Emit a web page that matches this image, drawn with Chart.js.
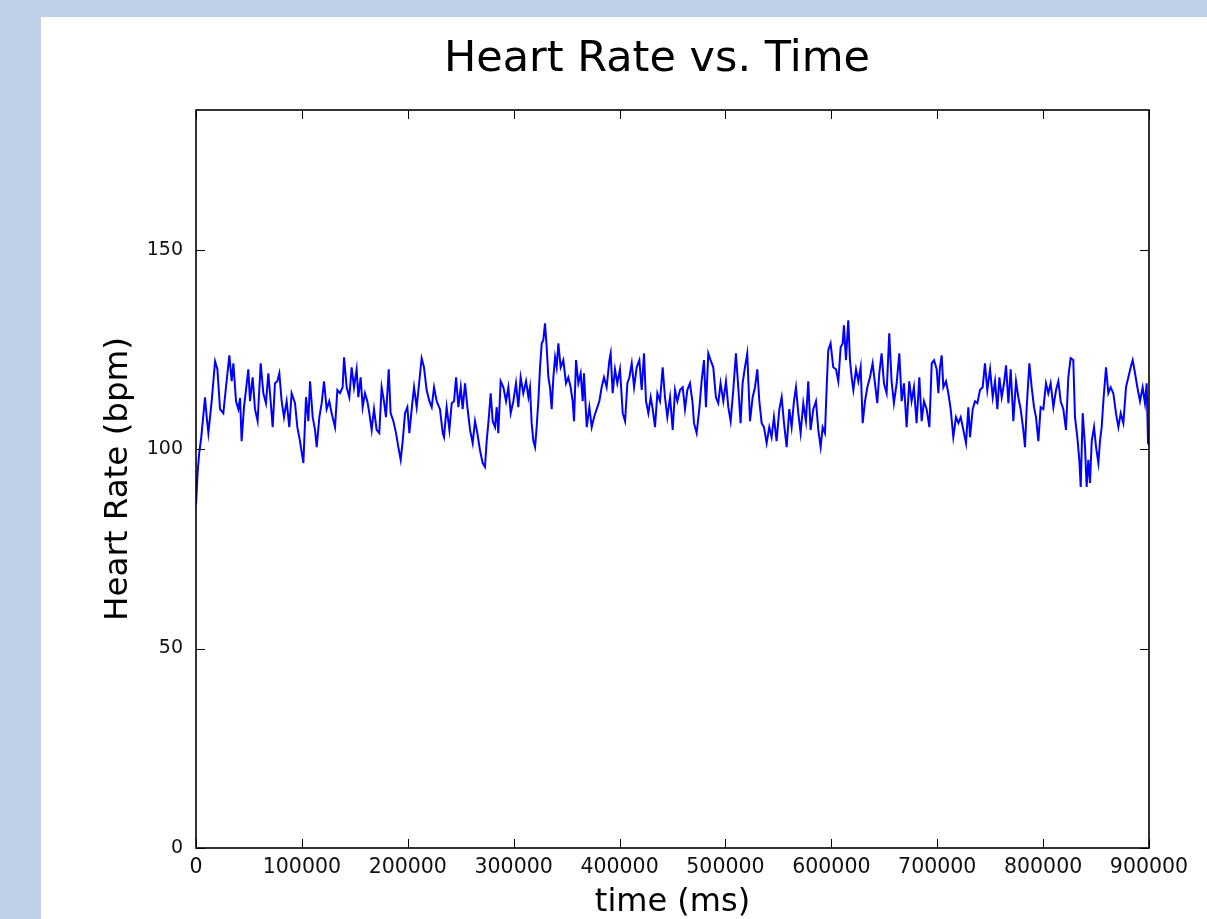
<!DOCTYPE html>
<html>
<head>
<meta charset="utf-8">
<title>Heart Rate vs. Time</title>
<script src="https://cdn.jsdelivr.net/npm/chart.js@4/dist/chart.umd.min.js"></script>
<style>
  html, body { margin: 0; padding: 0; background: #bfcfe7; }
  #wrap { width: 1207px; height: 919px; }
</style>
</head>
<body>
<div id="wrap"><canvas id="hrChart" width="1207" height="919"></canvas></div>
<script>
// readings taken off the plot: time in ms, heart rate in bpm
const timeMs = [
    0, 1500, 3000, 5000, 8500, 10100, 11700, 14800, 18000, 20200,
    22700, 25800, 28300, 31500, 33700, 35300, 37800, 40000, 41600, 43100,
    45300, 47200, 49400, 51000, 53500, 55700, 58200, 61100, 63600, 66100,
    68300, 70500, 72400, 74600, 76800, 78700, 80900, 83100, 85600, 88100,
    90300, 93500, 95700, 98200, 101400, 103900, 106100, 107700, 110200, 112400,
    114000, 116500, 118700, 120900, 123400, 125900, 128100, 131300, 133500, 136000,
    138500, 139800, 142300, 144800, 147000, 149200, 151700, 153300, 155500, 157400,
    159600, 161800, 163700, 165900, 168100, 170600, 173100, 175300, 177500, 179400,
    182000, 183800, 186400, 188900, 191100, 193300, 195200, 197400, 199600, 201500,
    203700, 205900, 208400, 210900, 213100, 215300, 217800, 220400, 222600, 224800,
    227300, 230400, 233000, 234200, 236700, 239300, 241500, 243700, 245600, 247800,
    250000, 251800, 254100, 256300, 258800, 261300, 263500, 265700, 268200, 270700,
    272900, 274500, 276100, 278300, 280200, 282400, 284000, 285500, 287700, 290300,
    292800, 295000, 297200, 299700, 302200, 304400, 306600, 309100, 311700, 313900,
    315400, 317000, 318600, 320200, 321700, 323300, 324900, 326500, 328000, 329600,
    331200, 332800, 334300, 335900, 337500, 339100, 340600, 342200, 344400, 346900,
    349400, 351600, 353800, 355700, 357000, 358900, 361100, 363300, 365200, 366400,
    369000, 371500, 373700, 375900, 378400, 380900, 383100, 385300, 387800, 390400,
    391600, 393500, 395700, 397900, 400400, 403000, 405200, 407400, 409300, 411500,
    413700, 416200, 418700, 420900, 423100, 425000, 427200, 429400, 431300, 433500,
    435700, 438200, 440700, 442900, 445100, 447700, 450200, 452400, 454600, 457100,
    459600, 461800, 464000, 466500, 469000, 470300, 472800, 475300, 477500, 479700,
    481600, 483800, 486000, 488500, 491000, 493200, 495400, 498000, 500500, 502700,
    504900, 507400, 509900, 512100, 514300, 516200, 518400, 520600, 523200, 525700,
    527900, 530100, 532000, 534200, 536400, 538900, 541400, 543600, 545800, 548300,
    550900, 553100, 555300, 557800, 560300, 562500, 564700, 566600, 568800, 571000,
    573500, 576000, 578200, 580400, 583000, 585500, 587700, 589900, 591800, 594000,
    595600, 597100, 599300, 601800, 604400, 606600, 608800, 610700, 611900, 613800,
    616000, 617600, 619200, 620800, 623300, 625500, 627700, 629600, 631800, 634000,
    636500, 639000, 641200, 643400, 645300, 647500, 649700, 652200, 654700, 656900,
    659100, 661700, 664200, 666400, 668600, 671100, 673600, 675800, 678000, 680500,
    683100, 685300, 687500, 690000, 692600, 694800, 697000, 699500, 701100, 702600,
    704200, 705800, 708300, 710500, 712700, 715200, 717700, 720000, 722200, 724700,
    727200, 729400, 731000, 733500, 735700, 737900, 740400, 742900, 745100, 747300,
    749900, 752400, 754600, 756800, 758700, 760900, 763100, 765000, 767200, 769400,
    771900, 774400, 776600, 778800, 781300, 782900, 784500, 787000, 789200, 791400,
    793300, 795500, 797700, 800200, 802700, 804900, 807100, 809700, 812200, 814400,
    816600, 819100, 821600, 823800, 826000, 828500, 830100, 832300, 834200, 835500,
    837400, 839600, 841100, 842700, 844300, 845900, 848100, 850000, 852200, 853700,
    855300, 856900, 859400, 861600, 863800, 866300, 868800, 871100, 873300, 875800,
    878300, 880500, 882700, 884600, 886800, 889000, 891500, 894000, 896200, 897800,
    899100, 900000
];
const heartRate = [
    86, 94, 99, 103, 113, 108, 104, 112, 122, 120,
    110, 109, 115.5, 123.5, 117, 121.5, 112, 110, 112.8, 102,
    110.5, 114.8, 120, 112, 118, 110, 107, 121.5, 114, 111.5,
    119, 112, 105.5, 116.5, 117, 119, 112, 108, 112, 105.5,
    114, 111.5, 105.5, 102, 96.5, 113, 107, 117, 108, 104.8,
    100.5, 108, 111.5, 117, 110, 112, 109, 105.5, 114.8, 114,
    115.5, 123, 115.5, 113, 120.5, 115.5, 120, 113, 118, 110.5,
    114, 112, 109, 104.8, 110, 104.8, 104, 115.5, 112, 108,
    120, 109, 107, 104, 100.5, 97.3, 102, 109, 110.5, 104,
    110, 115.5, 110.5, 117, 122.8, 120.5, 114.8, 112, 110.5, 115.5,
    112, 110, 104, 103, 110.5, 104.8, 111.5, 112, 118, 110.5,
    115.5, 110, 116.5, 110.5, 104.8, 101.5, 107, 104, 99.7, 96.5,
    95.5, 102, 106.5, 114, 107, 105.5, 110.5, 104, 117, 115.5,
    112, 115.5, 109, 112, 116.5, 110.5, 118, 114, 117, 113,
    115.5, 106.5, 102, 100.5, 105.5, 112, 120.5, 126.5, 127.3, 131.5,
    125.5, 118, 115.5, 110, 118, 123, 120.5, 126.5, 120.5, 122.3,
    116.5, 118, 115.5, 112, 107, 122.3, 116.5, 119, 112, 119,
    105.5, 110.5, 105.5, 108, 110, 112, 115.5, 118, 115.5, 122.3,
    124, 114, 120, 116.5, 120, 109, 107, 116.5, 118, 121.5,
    115.5, 120.5, 122.3, 114.8, 124, 112, 109, 113, 110, 105.5,
    114, 112, 120.5, 113, 108, 113, 104.8, 114.8, 112, 114.8,
    115.5, 110, 114.8, 116.5, 111.5, 106.5, 104, 110, 117, 122.3,
    110.5, 124, 122.3, 120.5, 113, 111.5, 116.5, 112, 117, 110.5,
    107, 114.8, 124, 115.5, 106.5, 116.5, 120.5, 124, 107, 113,
    115.5, 120, 112, 106.5, 105.5, 101.5, 105.5, 103, 108, 102,
    110, 113, 106.5, 100.5, 110, 105.5, 112, 115.5, 109, 104,
    111.5, 107, 117, 104.8, 110, 112, 104.8, 100.5, 105.5, 104,
    115.5, 124.8, 126.5, 120.5, 120, 117, 125.5, 126.5, 131, 122.3,
    132.3, 122.3, 118, 114.8, 120, 117, 120.5, 106.5, 112, 115.5,
    118, 121.5, 116.5, 111.5, 119, 124, 116.5, 114, 129, 117,
    111.5, 116.5, 124, 112, 116.5, 105.5, 117, 112, 115.5, 106.5,
    118, 107, 112, 110, 105.5, 121.5, 122.3, 120, 114, 120.5,
    123.5, 115.5, 117, 114, 110, 103, 108, 106.5, 108, 104.8,
    101.5, 110.5, 103, 110, 112, 111.5, 114.8, 115.5, 121.5, 114.8,
    120, 113, 117, 110, 118, 113, 116.5, 121, 111.5, 120,
    107, 117, 113, 110, 104.8, 100.5, 110.5, 121.5, 115.5, 110.5,
    108, 102, 110.5, 110, 116.5, 114, 116.5, 110.5, 114.8, 117,
    112, 110, 104.8, 118, 122.8, 122.3, 108, 103, 97.3, 90.5,
    109, 100.5, 90.5, 97.3, 91.5, 102, 105.5, 100.5, 96.5, 102,
    105.5, 112, 120.5, 114, 115.5, 114, 109, 105.5, 109, 106.5,
    115.5, 118, 120.5, 122.3, 119, 115.5, 112, 115.5, 111.5, 116.5,
    101.5, 101
];
const xTickValues = [0, 100000, 200000, 300000, 400000, 500000, 600000, 700000, 800000, 900000];
const yTickValues = [0, 50, 100, 150];
const chartTitle = 'Heart Rate vs. Time';
const xLabel = 'time (ms)';
const yLabel = 'Heart Rate (bpm)';

const FONT = "'DejaVu Sans', sans-serif";

// page panel, matplotlib style frame with inward ticks, and the title
const framePlugin = {
    id: 'mplFrame',
    beforeDraw(chart) {
        const { ctx, width, height } = chart;
        ctx.save();
        ctx.fillStyle = '#bfcfe7';
        ctx.fillRect(0, 0, width, height);
        ctx.fillStyle = '#ffffff';
        ctx.fillRect(41, 17, width - 41, height - 17);
        ctx.restore();
    },
    afterDatasetsDraw(chart) {
        const { ctx, chartArea: a, scales: { x, y } } = chart;
        ctx.save();
        ctx.strokeStyle = '#000';
        ctx.lineWidth = 1;
        ctx.beginPath();
        xTickValues.forEach((v) => {
            const p = Math.round(x.getPixelForValue(v)) + 0.5;
            ctx.moveTo(p, a.bottom); ctx.lineTo(p, a.bottom - 9);
            ctx.moveTo(p, a.top); ctx.lineTo(p, a.top + 9);
        });
        yTickValues.forEach((v) => {
            const p = Math.round(y.getPixelForValue(v)) + 0.5;
            ctx.moveTo(a.left, p); ctx.lineTo(a.left + 9, p);
            ctx.moveTo(a.right, p); ctx.lineTo(a.right - 9, p);
        });
        ctx.stroke();
        ctx.lineWidth = 1.6;
        ctx.strokeRect(a.left, a.top, a.right - a.left, a.bottom - a.top);

        ctx.fillStyle = '#000';
        ctx.font = `43px ${FONT}`;
        ctx.textAlign = 'center';
        ctx.textBaseline = 'alphabetic';
        ctx.fillText(chartTitle, 657, 71);
        ctx.restore();
    },
};

const points = timeMs.map((t, i) => ({ x: t, y: heartRate[i] }));

new Chart(document.getElementById('hrChart'), {
    type: 'line',
    data: {
        datasets: [{
            label: yLabel,
            data: points,
            borderColor: '#0000ff',
            borderWidth: 2,
            pointRadius: 0,
            tension: 0,
            fill: false,
        }],
    },
    options: {
        responsive: false,
        animation: false,
        devicePixelRatio: 1,
        layout: { padding: { left: 80, top: 110, right: 58, bottom: 0 } },
        plugins: {
            legend: { display: false },
            tooltip: { enabled: false },
            title: { display: false },
        },
        scales: {
            x: {
                type: 'linear',
                min: 0,
                max: 900000,
                grid: { display: false, drawTicks: false },
                border: { display: false },
                afterBuildTicks: (s) => { s.ticks = xTickValues.map((v) => ({ value: v })); },
                afterFit: (s) => { s.height = 71; },
                ticks: {
                    padding: 7,
                    color: '#111',
                    autoSkip: false,
                    maxRotation: 0,
                    font: { family: FONT, size: 20.5 },
                    callback: (v) => String(v),
                },
                title: {
                    display: true,
                    text: xLabel,
                    color: '#000',
                    font: { family: FONT, size: 32, lineHeight: 1 },
                    padding: 0,
                },
            },
            y: {
                min: 0,
                max: 185,
                grid: { display: false, drawTicks: false },
                border: { display: false },
                afterBuildTicks: (s) => { s.ticks = yTickValues.map((v) => ({ value: v })); },
                afterFit: (s) => { s.width = 116; },
                ticks: {
                    padding: 13,
                    color: '#111',
                    font: { family: FONT, size: 19 },
                    callback: (v) => String(v),
                },
                title: {
                    display: true,
                    text: yLabel,
                    color: '#000',
                    font: { family: FONT, size: 32.5, lineHeight: 1 },
                    padding: { top: 22, bottom: 0 },
                },
            },
        },
    },
    plugins: [framePlugin],
});
</script>
</body>
</html>
